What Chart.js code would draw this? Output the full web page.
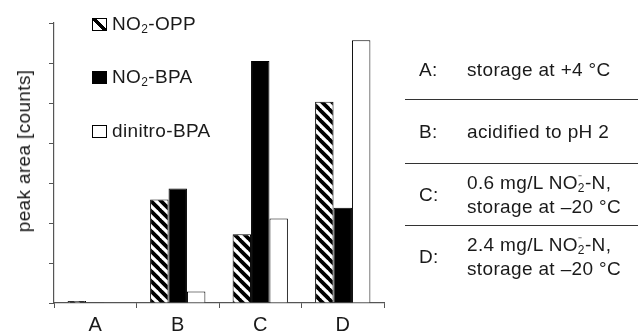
<!DOCTYPE html>
<html>
<head>
<meta charset="utf-8">
<script src="https://cdn.jsdelivr.net/npm/chart.js@4/dist/chart.umd.min.js"></script>
<style>
  html, body { margin: 0; padding: 0; background: #fff; }
  #wrap { position: relative; width: 638px; height: 333px; overflow: hidden;
          font-family: "Liberation Sans", Arial, sans-serif; color: #1a1a1a; }
  canvas { position: absolute; left: 0; top: 0; }
  .t { position: absolute; font-size: 19px; line-height: 24px; white-space: nowrap; letter-spacing: 0.35px; }
  .sw { position: absolute; width: 15px; height: 13px; border: 1px solid #000; box-sizing: border-box; }
  .hl { position: absolute; left: 405px; width: 233px; height: 0; border-top: 1.5px solid #333; }
  .ss { display: inline-block; vertical-align: -3px; line-height: 9px; font-size: 12px; text-align: left; }
  sub { font-size: 12px; vertical-align: -3px; line-height: 0; }
</style>
</head>
<body>
<div id="wrap">
  <canvas id="c" width="638" height="333"></canvas>

  <!-- y-axis title -->
  <div class="t" style="left:24px; top:151px; transform: translate(-50%,-50%) rotate(-90deg);">peak area [counts]</div>

  <!-- legend -->
  <div class="sw" style="left:92px; top:18px; background: linear-gradient(45deg, #fff 0 38%, #000 38% 62%, #fff 62% 100%);"></div>
  <div class="t" style="left:112px; top:12px;">NO<sub>2</sub>-OPP</div>
  <div class="sw" style="left:92px; top:71px; background:#000;"></div>
  <div class="t" style="left:112px; top:65px;">NO<sub>2</sub>-BPA</div>
  <div class="sw" style="left:92px; top:125px; background:#fff;"></div>
  <div class="t" style="left:112px; top:119px;">dinitro-BPA</div>

  <!-- condition key -->
  <div class="t" style="left:419px; top:58px;">A:</div>
  <div class="t" style="left:467px; top:58px;">storage at +4 °C</div>
  <div class="hl" style="top:99px;"></div>
  <div class="t" style="left:419px; top:120px;">B:</div>
  <div class="t" style="left:467px; top:120px;">acidified to pH 2</div>
  <div class="hl" style="top:163px;"></div>
  <div class="t" style="left:419px; top:183px;">C:</div>
  <div class="t" style="left:467px; top:171px;">0.6 mg/L NO<span class="ss">&#8315;<br>2</span>-N,<br>storage at &#8211;20 °C</div>
  <div class="hl" style="top:225px;"></div>
  <div class="t" style="left:419px; top:245px;">D:</div>
  <div class="t" style="left:467px; top:233px;">2.4 mg/L NO<span class="ss">&#8315;<br>2</span>-N,<br>storage at &#8211;20 °C</div>
</div>

<script>
const categories = ['A', 'B', 'C', 'D'];
const seriesNames = ['NO2-OPP', 'NO2-BPA', 'dinitro-BPA'];
const no2opp = [0.05, 2.59, 1.72, 5.03];
const no2bpa = [0.02, 2.86, 6.05, 2.38];
const dinitroBpa = [0.0, 0.29, 2.11, 6.57];
const yTicks = [0, 1, 2, 3, 4, 5, 6, 7];

function hatch() {
  const p = document.createElement('canvas');
  p.width = 10; p.height = 10;
  const g = p.getContext('2d');
  g.fillStyle = '#fff'; g.fillRect(0, 0, 10, 10);
  g.strokeStyle = '#000'; g.lineWidth = 3.8;
  for (let k = -1; k <= 1; k++) {
    g.beginPath(); g.moveTo(k * 10 - 1, -1); g.lineTo(k * 10 + 11, 11); g.stroke();
  }
  return g.createPattern(p, 'repeat');
}

const ctx = document.getElementById('c').getContext('2d');
new Chart(ctx, {
  type: 'bar',
  data: {
    labels: categories,
    datasets: [
      { label: seriesNames[0], data: no2opp, backgroundColor: hatch(), borderColor: '#000', borderWidth: 1 },
      { label: seriesNames[1], data: no2bpa, backgroundColor: '#000', borderColor: '#000', borderWidth: 1 },
      { label: seriesNames[2], data: dinitroBpa, backgroundColor: '#fff', borderColor: '#000', borderWidth: 1 }
    ]
  },
  options: {
    responsive: false,
    animation: false,
    events: [],
    layout: { padding: { top: 23, right: 254, left: 0, bottom: 0 } },
    datasets: { bar: { categoryPercentage: 0.67, barPercentage: 1.0 } },
    plugins: { legend: { display: false }, tooltip: { enabled: false }, title: { display: false } },
    scales: {
      x: {
        afterFit: s => { s.height = 30; },
        grid: { display: true, drawOnChartArea: false, drawTicks: true, tickLength: 5, color: '#555', lineWidth: 1, offset: true },
        border: { display: true, color: '#555', width: 1.2 },
        ticks: { color: '#1a1a1a', font: { family: 'Liberation Sans, Arial, sans-serif', size: 20 }, padding: 5 }
      },
      y: {
        min: 0, max: 7,
        afterFit: s => { s.width = 54; },
        afterBuildTicks: s => { s.ticks = yTicks.map(v => ({ value: v })); },
        grid: { display: true, drawOnChartArea: false, drawTicks: true, tickLength: 5, color: '#555', lineWidth: 1 },
        border: { display: true, color: '#555', width: 1.2 },
        ticks: { display: false }
      }
    }
  }
});
</script>
</body>
</html>
